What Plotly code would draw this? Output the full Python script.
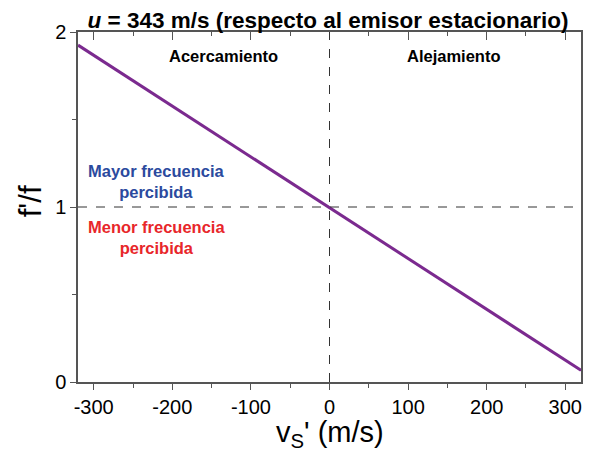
import plotly.graph_objects as go

# Data
v_source = [-320, 320]          # m/s
freq_ratio = [1.925, 0.067]     # f'/f at the endpoints
x_ticks = [-300, -200, -100, 0, 100, 200, 300]
x_tick_labels = ["-300", "-200", "-100", "0", "100", "200", "300"]
y_ticks = [0, 1, 2]
y_tick_labels = ["0", "1", "2"]
region_labels = ["Acercamiento", "Alejamiento"]
region_x = [-135, 159]

FONT = "Liberation Sans, Arial, sans-serif"
AX = "#555555"

fig = go.Figure()
fig.add_trace(go.Scatter(x=v_source, y=freq_ratio, mode="lines",
                         line=dict(color="#7b2a8f", width=3), showlegend=False,
                         hoverinfo="skip"))
# invisible trace for the top mirror axis
fig.add_trace(go.Scatter(x=v_source, y=freq_ratio, xaxis="x2", yaxis="y",
                         mode="lines", line=dict(width=0), opacity=0,
                         showlegend=False, hoverinfo="skip"))

fig.add_hline(y=1, line=dict(color="#333333", width=1, dash="dash"))
fig.add_vline(x=0, line=dict(color="#333333", width=1, dash="dash"))

# page body adds an 8px offset, so the figure is 8px smaller
fig.update_layout(
    width=585, height=442,
    margin=dict(l=70, r=12, t=24, b=68, autoexpand=False),
    paper_bgcolor="white", plot_bgcolor="white",
    font=dict(family=FONT, color="black"),
    title=dict(text="<b><i>u</i> = 343 m/s (respecto al emisor estacionario)</b>",
               xref="container", x=0.547, xanchor="center",
               yref="container", y=0.972, yanchor="middle",
               font=dict(size=22.5, family=FONT, color="black")),
    xaxis=dict(range=[-320, 320], tickvals=x_ticks, ticktext=x_tick_labels,
               ticks="outside", ticklen=6,
               tickcolor=AX, tickfont=dict(size=20), showline=True,
               linecolor=AX, linewidth=1.5, showgrid=False, zeroline=False,
               automargin=False,
               minor=dict(dtick=50, ticks="outside", ticklen=4, tickcolor=AX)),
    xaxis2=dict(range=[-320, 320], overlaying="x", side="top", anchor="y",
                tickvals=x_ticks, ticks="inside", ticklen=8, tickcolor=AX,
                showticklabels=False, showline=True, linecolor=AX, linewidth=1.5,
                showgrid=False, zeroline=False, automargin=False,
                minor=dict(dtick=50, ticks="inside", ticklen=4, tickcolor=AX)),
    yaxis=dict(range=[0, 2], tickvals=y_ticks, ticktext=y_tick_labels,
               ticks="outside", ticklen=6,
               tickcolor=AX, tickfont=dict(size=20), showline=True,
               linecolor=AX, linewidth=1.5, mirror=True, showgrid=False,
               zeroline=False, automargin=False,
               minor=dict(dtick=0.5, ticks="outside", ticklen=4, tickcolor=AX)),
)

# axis titles as annotations for exact placement
fig.add_annotation(xref="paper", yref="paper", x=0.501, y=-0.148,
                   text="v<sub>S</sub>' (m/s)", showarrow=False,
                   xanchor="center", yanchor="middle", borderpad=0,
                   font=dict(size=29, color="black"))
fig.add_annotation(xref="paper", yref="paper", x=-0.095, y=0.517,
                   text="f'/f", showarrow=False, textangle=-90,
                   xanchor="center", yanchor="middle",
                   font=dict(size=31, color="black"))

for lbl, xv in zip(region_labels, region_x):
    fig.add_annotation(x=xv, y=1.865, text=f"<b>{lbl}</b>", showarrow=False,
                       font=dict(size=16.5, color="black"))

fig.add_annotation(x=-220, y=1.143, text="<b>Mayor frecuencia<br>percibida</b>",
                   showarrow=False, font=dict(size=16.5, color="#2b4a9e"))
fig.add_annotation(x=-220, y=0.827, text="<b>Menor frecuencia<br>percibida</b>",
                   showarrow=False, font=dict(size=16.5, color="#e8262a"))

fig.write_html("out.html")
